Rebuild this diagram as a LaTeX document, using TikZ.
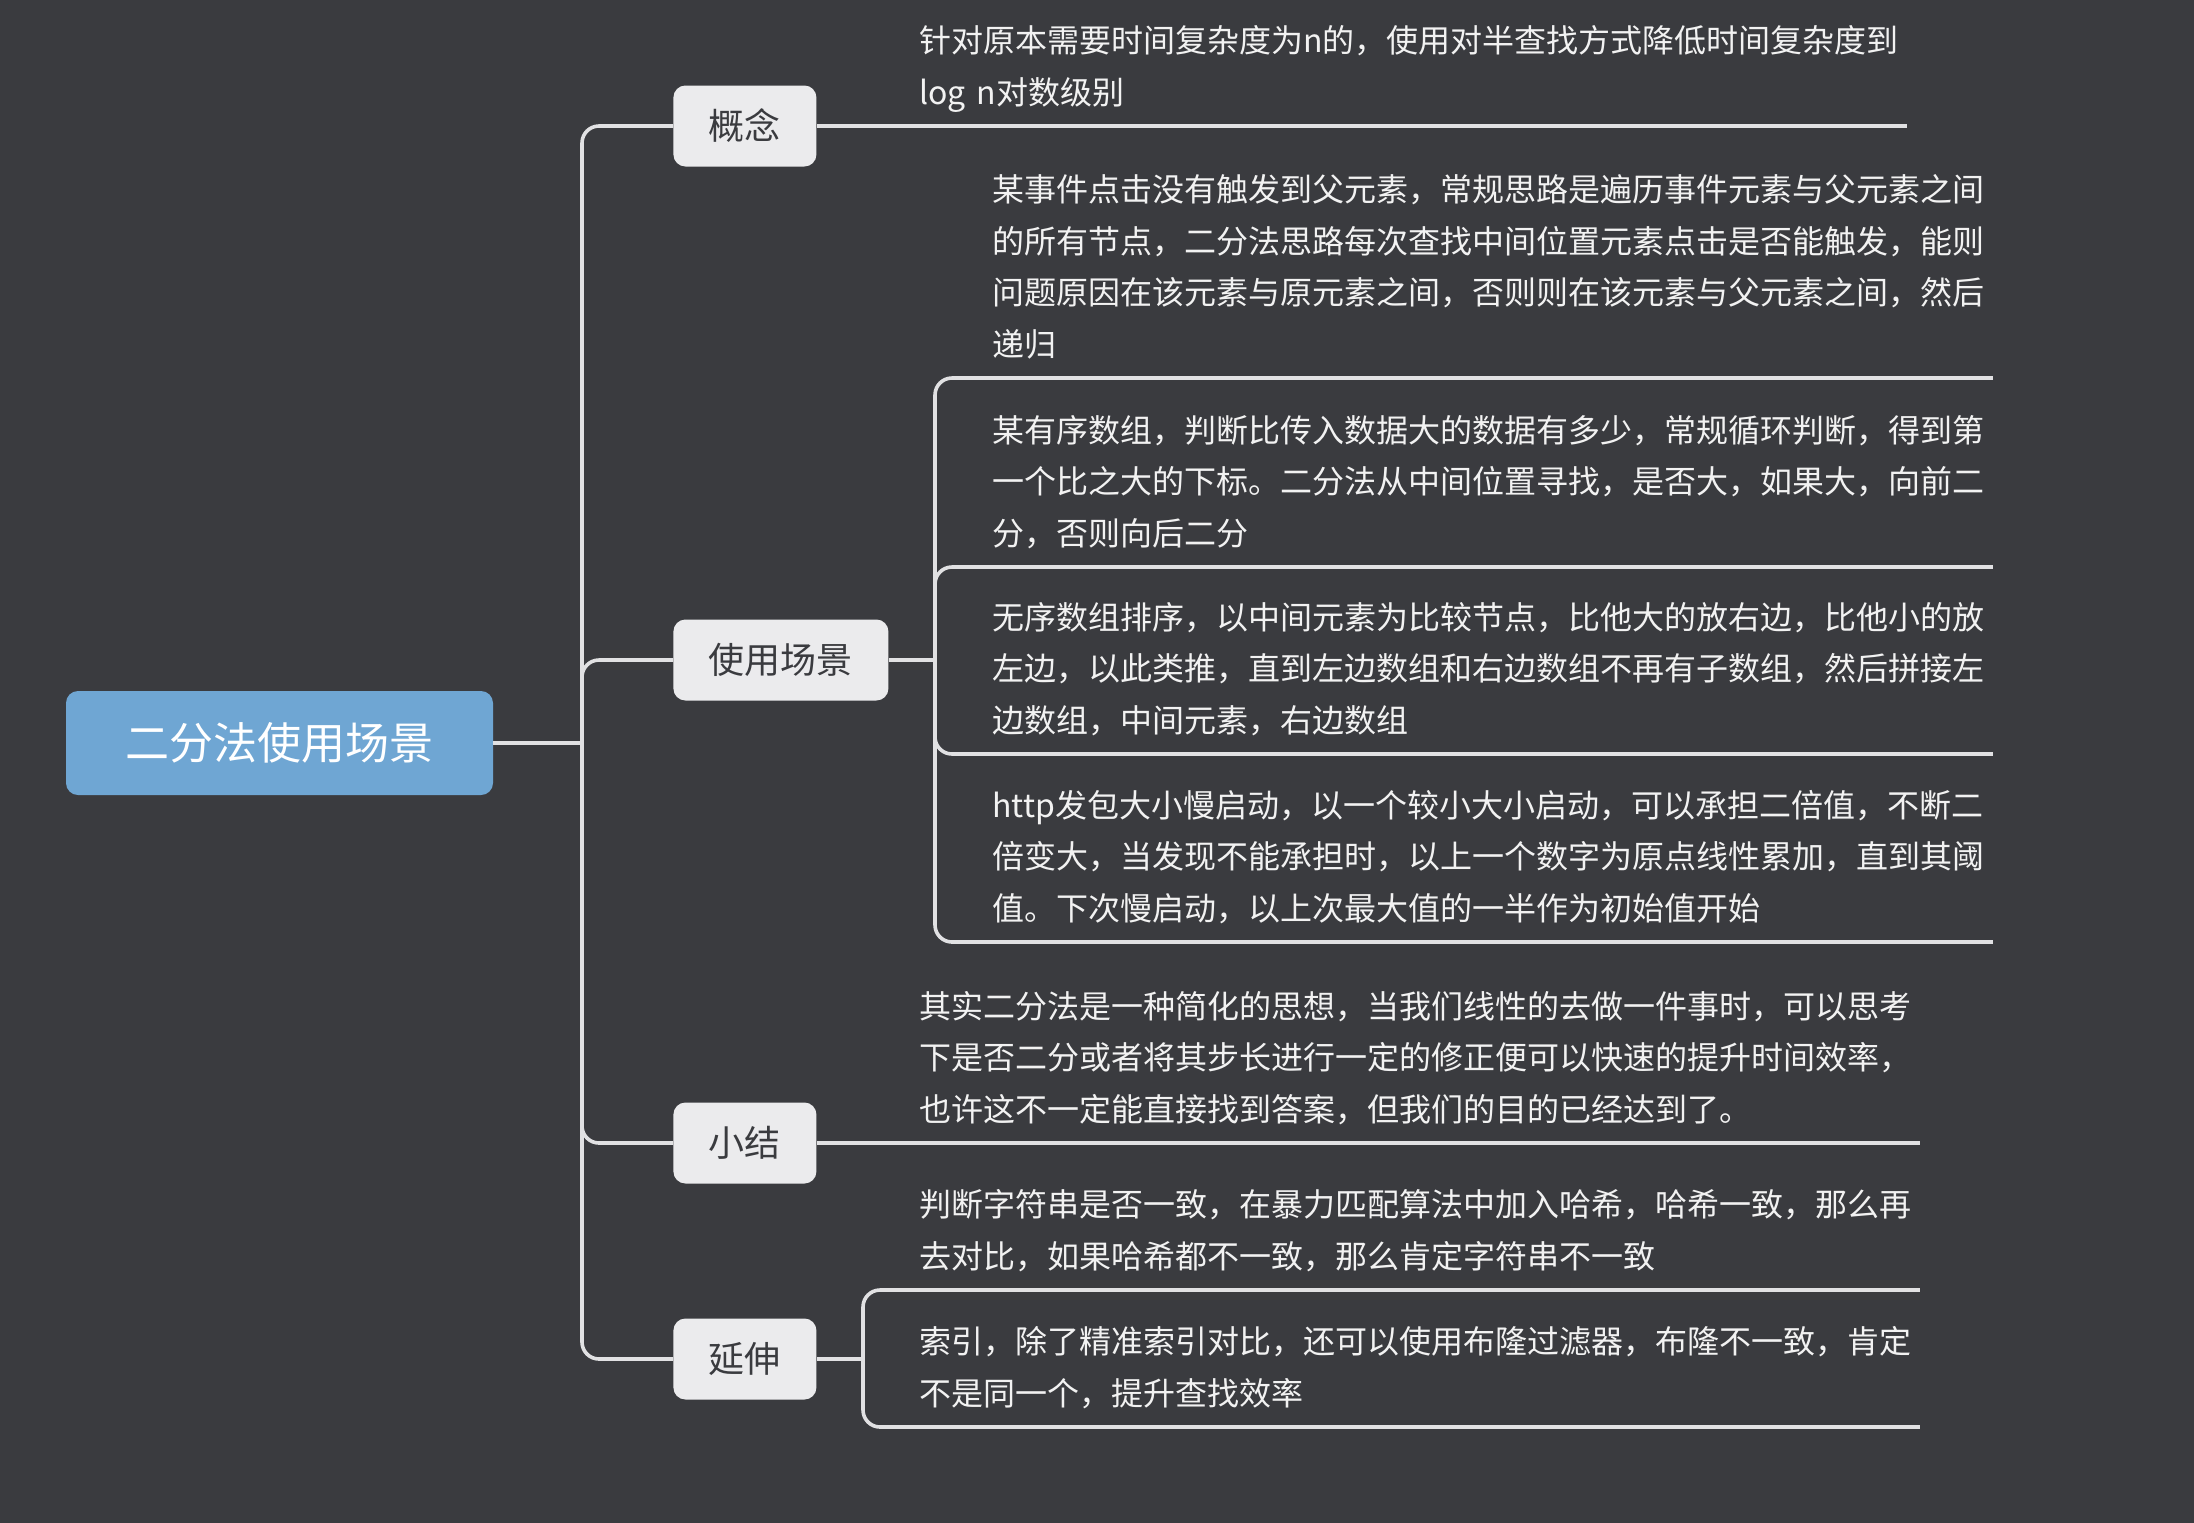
\documentclass[tikz,border=0pt]{standalone}
\usepackage{fontspec}
\setmainfont{Noto Sans CJK SC}
\usetikzlibrary{positioning}
\definecolor{MapBg}{RGB}{58,59,63}
\definecolor{RootBlue}{RGB}{111,166,211}
\definecolor{TopicGray}{RGB}{235,235,237}
\definecolor{TopicInk}{RGB}{58,59,63}
\definecolor{LineGray}{RGB}{225,225,227}
\definecolor{LeafInk}{RGB}{242,242,242}
\tikzset{
  rootbox/.style={fill=RootBlue, rounded corners=6pt, text=white,
    minimum width=213.5pt, minimum height=52pt, inner sep=0pt,
    font=\fontsize{22pt}{26pt}\selectfont},
  topic/.style={fill=TopicGray, rounded corners=6pt, text=TopicInk,
    minimum height=40.5pt, inner xsep=17.75pt, inner ysep=0pt,
    font=\fontsize{18pt}{22pt}\selectfont},
  leaf/.style={anchor=south west, text=LeafInk, align=left,
    inner xsep=0pt, inner ysep=2.65pt, text width=500pt,
    font=\fontsize{16pt}{25.9pt}\selectfont, execute at end node=\strut},
  branch/.style={draw=LineGray, line width=1.8pt, rounded corners=8.5pt}
}

\begin{document}
\begin{tikzpicture}[x=0.5pt, y=-0.5pt]
  \useasboundingbox (0,0) rectangle (2194,1522);
  \fill[MapBg] (-20,-20) rectangle (2214,1542);
  \node[rootbox] (root) at (279.5,743) {二分法使用场景};
  \coordinate (trunk) at (582,743);
  \node[topic, anchor=west] (concept) at (673,126) {概念};
  \node[topic, anchor=west] (usage) at (673,660) {使用场景};
  \node[topic, anchor=west] (summary) at (673,1143) {小结};
  \node[topic, anchor=west] (extend) at (673,1359) {延伸};

  \node[leaf, text width=493.5pt] (defn) at (919,126)
    {针对原本需要时间复杂度为n的，使用对半查找方式降低时间复杂度到\\log n对数级别};
  \coordinate (ufork) at (935,660);
  \node[leaf] (event) at (992,378)
    {某事件点击没有触发到父元素，常规思路是遍历事件元素与父元素之间\\的所有节点，二分法思路每次查找中间位置元素点击是否能触发，能则\\问题原因在该元素与原元素之间，否则则在该元素与父元素之间，然后\\递归};
  \node[leaf] (sorted) at (992,567)
    {某有序数组，判断比传入数据大的数据有多少，常规循环判断，得到第\\一个比之大的下标。二分法从中间位置寻找，是否大，如果大，向前二\\分，否则向后二分};
  \node[leaf] (unsorted) at (992,754)
    {无序数组排序，以中间元素为比较节点，比他大的放右边，比他小的放\\左边，以此类推，直到左边数组和右边数组不再有子数组，然后拼接左\\边数组，中间元素，右边数组};
  \node[leaf] (slowstart) at (992,942)
    {http发包大小慢启动，以一个较小大小启动，可以承担二倍值，不断二\\倍变大，当发现不能承担时，以上一个数字为原点线性累加，直到其阈\\值。下次慢启动，以上次最大值的一半作为初始值开始};
  \node[leaf] (recap) at (919,1143)
    {其实二分法是一种简化的思想，当我们线性的去做一件事时，可以思考\\下是否二分或者将其步长进行一定的修正便可以快速的提升时间效率，\\也许这不一定能直接找到答案，但我们的目的已经达到了。};
  \coordinate (efork) at (863,1359);
  \node[leaf] (hashing) at (919,1290)
    {判断字符串是否一致，在暴力匹配算法中加入哈希，哈希一致，那么再\\去对比，如果哈希都不一致，那么肯定字符串不一致};
  \node[leaf] (bloom) at (919,1427)
    {索引，除了精准索引对比，还可以使用布隆过滤器，布隆不一致，肯定\\不是同一个，提升查找效率};

  \draw[branch] (root.east) -- (trunk);
  \foreach \br in {concept,usage,summary,extend}
    \draw[branch] (trunk) |- (\br.west);
  \draw[branch] (concept.east) -- (defn.south east);
  \draw[branch] (usage.east) -- (ufork);
  \foreach \lf in {event,sorted,unsorted,slowstart}
    \draw[branch] (ufork) |- (\lf.south east);
  \draw[branch] (summary.east) -- (recap.south east);
  \draw[branch] (extend.east) -- (efork);
  \foreach \lf in {hashing,bloom}
    \draw[branch] (efork) |- (\lf.south east);
\end{tikzpicture}
\end{document}
